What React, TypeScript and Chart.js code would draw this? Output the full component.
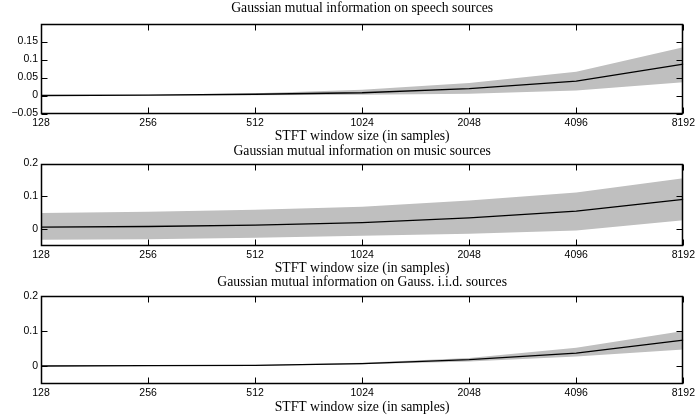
import React, { useEffect, useRef } from 'react';
import { Chart, registerables } from 'chart.js';

Chart.register(...registerables);

// ---------- data ----------
const windowSizes = [128, 256, 512, 1024, 2048, 4096, 8192];
const xTickLabels = ['128', '256', '512', '1024', '2048', '4096', '8192'];
const xAxisTitle = 'STFT window size (in samples)';

const speechTitle = 'Gaussian mutual information on speech sources';
const speechMean = [0, 0.001, 0.0035, 0.0076, 0.019, 0.04, 0.087];
const speechUpper = [0.0005, 0.002, 0.006, 0.016, 0.035, 0.066, 0.134];
const speechLower = [-0.0005, 0, 0.001, 0.002, 0.005, 0.014, 0.037];
const speechYTicks = [-0.05, 0, 0.05, 0.1, 0.15];

const musicTitle = 'Gaussian mutual information on music sources';
const musicMean = [0.006, 0.008, 0.012, 0.02, 0.034, 0.055, 0.091];
const musicUpper = [0.0495, 0.053, 0.059, 0.068, 0.087, 0.112, 0.155];
const musicLower = [-0.0325, -0.031, -0.026, -0.02, -0.014, -0.004, 0.027];
const musicYTicks = [0, 0.1, 0.2];

const gaussTitle = 'Gaussian mutual information on Gauss. i.i.d. sources';
const gaussMean = [0, 0.001, 0.002, 0.007, 0.018, 0.037, 0.074];
const gaussUpper = [0.0005, 0.0015, 0.003, 0.009, 0.023, 0.052, 0.1];
const gaussLower = [-0.0005, 0.0005, 0.001, 0.005, 0.013, 0.027, 0.0475];
const gaussYTicks = [0, 0.1, 0.2];

// ---------- layout (not data) ----------
const W = 698;
const SERIF = "'Liberation Serif', 'Times New Roman', serif";
const SANS = "'Liberation Sans', Arial, sans-serif";
const TITLE_SIZE = 13.7;
const TICK_SIZE = 10.5;

type PanelCfg = {
  title: string;
  mean: number[];
  upper: number[];
  lower: number[];
  yTicks: number[];
  yMin: number;
  yMax: number;
  top: number;
  height: number;
  titlePadTop: number;
  titlePadBottom: number;
  xScaleHeight: number;
  xTitlePadBottom: number;
};

const panels: PanelCfg[] = [
  {
    title: speechTitle, mean: speechMean, upper: speechUpper, lower: speechLower,
    yTicks: speechYTicks, yMin: -0.05, yMax: 0.2,
    top: 0, height: 145, titlePadTop: 0.3, titlePadBottom: 6.8, xScaleHeight: 31.5, xTitlePadBottom: 0.8,
  },
  {
    title: musicTitle, mean: musicMean, upper: musicUpper, lower: musicLower,
    yTicks: musicYTicks, yMin: -0.05, yMax: 0.2,
    top: 140, height: 138, titlePadTop: 3.3, titlePadBottom: 3.8, xScaleHeight: 32.5, xTitlePadBottom: 1.8,
  },
  {
    title: gaussTitle, mean: gaussMean, upper: gaussUpper, lower: gaussLower,
    yTicks: gaussYTicks, yMin: -0.05, yMax: 0.2,
    top: 274, height: 142, titlePadTop: 0.3, titlePadBottom: 5.3, xScaleHeight: 32.5, xTitlePadBottom: 0.3,
  },
];

const fmtY = (v: number) => (v === 0 ? '0' : v < 0 ? '\u2212' + String(Math.abs(v)) : String(v));

const boxPlugin = {
  id: 'matlabBox',
  afterDraw(chart: any) {
    const { ctx, chartArea } = chart;
    const xs = chart.scales.x;
    const ys = chart.scales.y;
    const L = Math.round(chartArea.left) + 0.5;
    const R = Math.round(chartArea.right) - 0.5;
    const T = Math.round(chartArea.top) + 0.5;
    const B = Math.round(chartArea.bottom) - 0.5;
    const tl = 6;
    ctx.save();
    ctx.setLineDash([]);
    ctx.globalAlpha = 1;
    ctx.globalCompositeOperation = 'source-over';
    ctx.strokeStyle = '#000000';
    ctx.lineWidth = 1;
    ctx.beginPath();
    xs.ticks.forEach((t: any) => {
      const px = Math.round(xs.getPixelForValue(t.value)) + 0.5;
      ctx.moveTo(px, B);
      ctx.lineTo(px, B - tl);
      ctx.moveTo(px, T);
      ctx.lineTo(px, T + tl);
    });
    ys.ticks.forEach((t: any) => {
      const py = Math.round(ys.getPixelForValue(t.value)) + 0.5;
      ctx.moveTo(L, py);
      ctx.lineTo(L + tl, py);
      ctx.moveTo(R, py);
      ctx.lineTo(R - tl, py);
    });
    ctx.stroke();
    ctx.lineWidth = 1.5;
    ctx.beginPath();
    ctx.rect(L, T, R - L, B - T);
    ctx.stroke();
    ctx.restore();
  },
};

function PanelChart({ cfg }: { cfg: PanelCfg }) {
  const ref = useRef<HTMLCanvasElement | null>(null);
  useEffect(() => {
    if (!ref.current) return;
    const pts = (arr: number[]) => windowSizes.map((x, i) => ({ x, y: arr[i] }));
    const chart = new Chart(ref.current, {
      type: 'line',
      data: {
        datasets: [
          {
            label: 'mean',
            data: pts(cfg.mean),
            borderColor: '#000',
            borderWidth: 1.3,
            pointRadius: 0,
            fill: false,
            tension: 0,
          },
          {
            label: 'upper',
            data: pts(cfg.upper),
            borderWidth: 0,
            borderColor: 'rgba(0,0,0,0)',
            backgroundColor: '#bfbfbf',
            pointRadius: 0,
            fill: '+1',
            tension: 0,
          },
          {
            label: 'lower',
            data: pts(cfg.lower),
            borderWidth: 0,
            borderColor: 'rgba(0,0,0,0)',
            pointRadius: 0,
            fill: false,
            tension: 0,
          },
        ],
      },
      options: {
        responsive: false,
        animation: false,
        events: [],
        layout: { padding: { left: 0, right: 13, top: 0, bottom: 0 } },
        plugins: {
          legend: { display: false },
          tooltip: { enabled: false },
          title: {
            display: true,
            fullSize: false,
            text: cfg.title,
            color: '#000',
            font: { family: SERIF, size: TITLE_SIZE, weight: 'normal', lineHeight: 1.2 },
            padding: { top: cfg.titlePadTop, bottom: cfg.titlePadBottom },
          },
        },
        scales: {
          x: {
            type: 'logarithmic',
            min: windowSizes[0],
            max: windowSizes[windowSizes.length - 1],
            grid: { display: false, drawTicks: false },
            border: { display: false },
            ticks: {
              color: '#000',
              font: { family: SANS, size: TICK_SIZE },
              padding: 3,
              maxRotation: 0,
              autoSkip: false,
              callback: (v: any) => {
                const i = windowSizes.indexOf(Number(v));
                return i >= 0 ? xTickLabels[i] : '';
              },
            },
            afterBuildTicks: (scale: any) => {
              scale.ticks = windowSizes.map((v) => ({ value: v }));
            },
            afterFit: (scale: any) => {
              scale.height = cfg.xScaleHeight;
            },
            title: {
              display: true,
              text: xAxisTitle,
              color: '#000',
              font: { family: SERIF, size: TITLE_SIZE, lineHeight: 1.2 },
              padding: { top: 0, bottom: cfg.xTitlePadBottom },
            },
          },
          y: {
            type: 'linear',
            min: cfg.yMin,
            max: cfg.yMax,
            grid: { display: false, drawTicks: false },
            border: { display: false },
            ticks: {
              color: '#000',
              font: { family: SANS, size: TICK_SIZE },
              padding: 3,
              autoSkip: false,
              callback: (v: any) => fmtY(Number(v)),
            },
            afterBuildTicks: (scale: any) => {
              scale.ticks = cfg.yTicks.map((v) => ({ value: v }));
            },
            afterFit: (scale: any) => {
              scale.width = 41;
            },
          },
        },
      },
      plugins: [boxPlugin],
    } as any);
    return () => chart.destroy();
  }, [cfg]);
  return (
    <canvas
      ref={ref}
      width={W}
      height={cfg.height}
      style={{ position: 'absolute', left: 0, top: cfg.top, width: W, height: cfg.height, display: 'block' }}
    />
  );
}

export default function App() {
  return (
    <div style={{ position: 'fixed', left: 0, top: 0, width: W, height: 416, background: '#fff' }}>
      {panels.map((p, i) => (
        <PanelChart key={i} cfg={p} />
      ))}
    </div>
  );
}
